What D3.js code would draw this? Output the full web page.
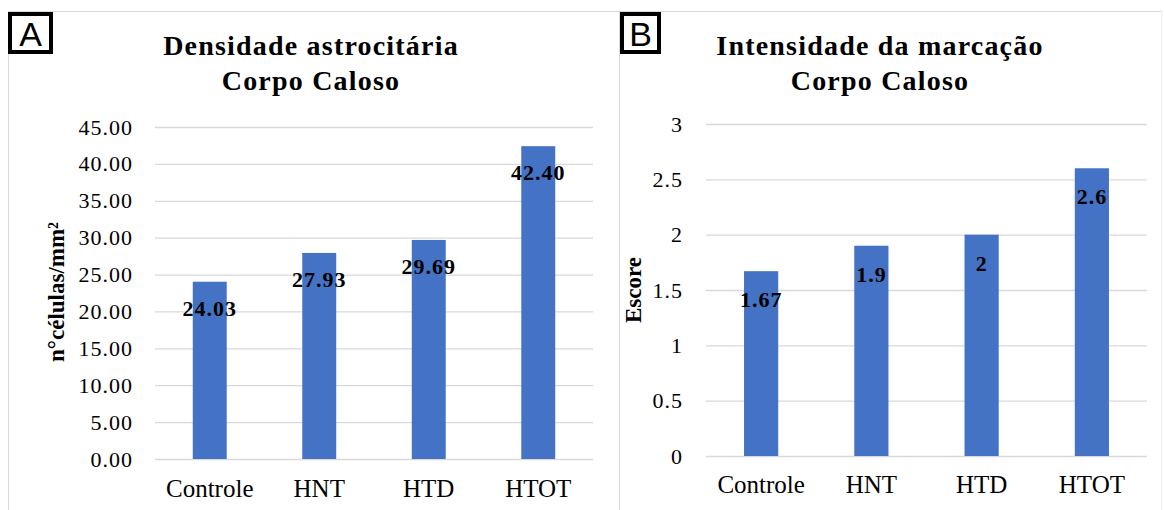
<!DOCTYPE html>
<html>
<head>
<meta charset="utf-8">
<script src="https://cdn.jsdelivr.net/npm/d3@7"></script>
<style>
  body { margin: 0; background: #fff; }
  text { font-family: "Liberation Serif", "Times New Roman", serif; fill: #000; }
</style>
</head>
<body>
<div id="chart"></div>
<script>
// categories and values
var categories = ["Controle", "HNT", "HTD", "HTOT"];
var densidade = [24.03, 27.93, 29.69, 42.40];
var escore = [1.67, 1.9, 2, 2.6];

var ticksA = [0, 5, 10, 15, 20, 25, 30, 35, 40, 45];
var ticksB = [0, 0.5, 1, 1.5, 2, 2.5, 3];

var titleA = ["Densidade astrocitária", "Corpo Caloso"];
var titleB = ["Intensidade da marcação", "Corpo Caloso"];

var width = 1164, height = 510;
var barColor = "#4472C4";
var gridColor = "#d9d9d9";

var svg = d3.select("#chart").append("svg")
    .attr("width", width)
    .attr("height", height);

// frame lines
svg.append("line").attr("x1", 8).attr("x2", 1161).attr("y1", 11.5).attr("y2", 11.5)
    .attr("stroke", gridColor);
svg.append("line").attr("x1", 8.5).attr("x2", 8.5).attr("y1", 11).attr("y2", height)
    .attr("stroke", gridColor);
svg.append("line").attr("x1", 619.5).attr("x2", 619.5).attr("y1", 11).attr("y2", height)
    .attr("stroke", gridColor);
svg.append("line").attr("x1", 1161.5).attr("x2", 1161.5).attr("y1", 11).attr("y2", height)
    .attr("stroke", "#eeeeee");

/**
 * Draws one bar panel.
 */
function drawPanel(cfg) {
    var g = svg.append("g");

    var x = d3.scaleBand()
        .domain(categories)
        .range([cfg.left, cfg.right])
        .paddingInner(0.69)
        .paddingOuter(0.345);

    var y = d3.scaleLinear()
        .domain([0, cfg.max])
        .range([cfg.bottom, cfg.top]);

    // gridlines
    g.append("g")
        .attr("transform", "translate(" + cfg.left + ",0)")
        .call(d3.axisLeft(y).tickValues(cfg.ticks).tickSize(-(cfg.right - cfg.left)).tickFormat(""))
        .call(function (a) {
            a.select(".domain").remove();
            a.selectAll("line").attr("stroke", gridColor).attr("stroke-width", 1.3);
        });

    // tick labels
    g.append("g")
        .attr("transform", "translate(" + cfg.left + ",0)")
        .call(d3.axisLeft(y).tickValues(cfg.ticks).tickSize(0).tickPadding(cfg.pad).tickFormat(cfg.tickFormat))
        .call(function (a) {
            a.select(".domain").remove();
            a.selectAll("text")
                .attr("font-family", "Liberation Serif")
                .attr("font-size", 22)
                .attr("letter-spacing", 1)
                .attr("fill", "#000");
        });

    // bars
    g.selectAll("rect.bar")
        .data(cfg.values)
        .enter()
        .append("rect")
        .attr("class", "bar")
        .attr("x", function (d, i) { return x(categories[i]); })
        .attr("width", x.bandwidth())
        .attr("y", function (d) { return y(d); })
        .attr("height", function (d) { return y(0) - y(d); })
        .attr("fill", barColor);

    // value labels
    g.selectAll("text.val")
        .data(cfg.values)
        .enter()
        .append("text")
        .attr("class", "val")
        .attr("x", function (d, i) { return x(categories[i]) + x.bandwidth() / 2; })
        .attr("y", function (d) { return y(d) + cfg.labelOffset; })
        .attr("text-anchor", "middle")
        .attr("font-size", 22)
        .attr("font-weight", "bold")
        .attr("letter-spacing", 1)
        .text(cfg.valueFormat);

    // category labels
    g.selectAll("text.cat")
        .data(categories)
        .enter()
        .append("text")
        .attr("class", "cat")
        .attr("x", function (d) { return x(d) + x.bandwidth() / 2; })
        .attr("y", cfg.catY)
        .attr("text-anchor", "middle")
        .attr("font-size", 25)
        .text(function (d) { return d; });

    // title
    g.selectAll("text.title")
        .data(cfg.title)
        .enter()
        .append("text")
        .attr("class", "title")
        .attr("x", cfg.titleX)
        .attr("y", function (d, i) { return 55 + i * 35; })
        .attr("text-anchor", "middle")
        .attr("font-size", 28)
        .attr("font-weight", "bold")
        .attr("letter-spacing", 1.2)
        .text(function (d) { return d; });

    // y axis title
    g.append("text")
        .attr("transform", "translate(" + cfg.yTitleX + "," + cfg.yTitleY + ") rotate(-90)")
        .attr("text-anchor", "middle")
        .attr("font-size", 23)
        .attr("font-weight", "bold")
        .text(cfg.yTitle);

    // panel letter box
    g.append("rect")
        .attr("x", cfg.box[0] + 2)
        .attr("y", 14)
        .attr("width", cfg.box[1] - 4)
        .attr("height", 38)
        .attr("fill", "#fff")
        .attr("stroke", "#000")
        .attr("stroke-width", 4);
    g.append("text")
        .attr("x", cfg.box[0] + cfg.box[1] / 2)
        .attr("y", 46)
        .attr("text-anchor", "middle")
        .attr("font-family", "Liberation Sans")
        .style("font-family", "Liberation Sans, Arial, sans-serif")
        .attr("font-size", 34)
        .text(cfg.letter);
}

drawPanel({
    values: densidade,
    ticks: ticksA,
    max: 45,
    left: 155, right: 593, top: 127, bottom: 459,
    pad: 22,
    tickFormat: d3.format(".2f"),
    valueFormat: d3.format(".2f"),
    labelOffset: 34,
    catY: 497,
    title: titleA,
    titleX: 311,
    yTitle: "n°células/mm²",
    yTitleX: 64, yTitleY: 292,
    box: [8, 45],
    letter: "A"
});

drawPanel({
    values: escore,
    ticks: ticksB,
    max: 3,
    left: 706, right: 1147, top: 124, bottom: 456,
    pad: 23,
    tickFormat: function (d) { return String(d); },
    valueFormat: function (d) { return String(d); },
    labelOffset: 36,
    catY: 493,
    title: titleB,
    titleX: 880,
    yTitle: "Escore",
    yTitleX: 641, yTitleY: 290,
    box: [620, 41],
    letter: "B"
});
</script>
</body>
</html>
